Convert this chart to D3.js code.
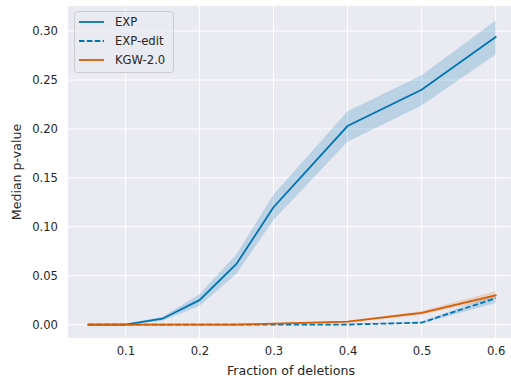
<!DOCTYPE html>
<html><head><meta charset="utf-8">
<script src="https://cdn.jsdelivr.net/npm/d3@7"></script>
<style>body{margin:0;background:#fff;} svg{display:block;font-family:"DejaVu Sans",sans-serif;}</style>
</head><body><svg id="c" width="511" height="383"></svg>
<script>
const fractions = [0.05, 0.1, 0.15, 0.2, 0.25, 0.3, 0.4, 0.5, 0.6];
const expMed   = [0.000, 0.000, 0.006, 0.025, 0.062, 0.120, 0.203, 0.240, 0.294];
const expLo    = [0.000, 0.000, 0.004, 0.019, 0.052, 0.107, 0.187, 0.224, 0.276];
const expHi    = [0.000, 0.001, 0.008, 0.031, 0.072, 0.133, 0.218, 0.255, 0.311];
const editMed  = [0.000, 0.000, 0.000, 0.000, 0.000, 0.000, 0.000, 0.002, 0.027];
const editLo   = [0.000, 0.000, 0.000, 0.000, 0.000, 0.000, 0.000, 0.001, 0.022];
const editHi   = [0.000, 0.000, 0.000, 0.000, 0.000, 0.000, 0.001, 0.003, 0.031];
const kgwMed   = [0.000, 0.000, 0.000, 0.000, 0.000, 0.001, 0.003, 0.012, 0.030];
const kgwLo    = [0.000, 0.000, 0.000, 0.000, 0.000, 0.000, 0.002, 0.010, 0.027];
const kgwHi    = [0.000, 0.000, 0.000, 0.000, 0.001, 0.001, 0.004, 0.014, 0.034];
const xTicks = [0.1, 0.2, 0.3, 0.4, 0.5, 0.6];
const yTicks = [0.00, 0.05, 0.10, 0.15, 0.20, 0.25, 0.30];
const seriesNames = ["EXP", "EXP-edit", "KGW-2.0"];

const svg = d3.select("#c");
const L = 68, T = 6, R = 516, B = 338;
const x = d3.scaleLinear().domain([0.0225, 0.6275]).range([L, R]);
const y = d3.scaleLinear().domain([-0.0137, 0.3257]).range([B, T]);
const tickFs = 11.6, labelFs = 12.6;

svg.append("rect").attr("x", L).attr("y", T).attr("width", R - L).attr("height", B - T).attr("fill", "#eaeaf2");
const g = svg.append("g");
g.selectAll(".gx").data(xTicks).join("line").attr("x1", d => x(d)).attr("x2", d => x(d)).attr("y1", T).attr("y2", B).attr("stroke", "#fff").attr("stroke-width", 1);
g.selectAll(".gy").data(yTicks).join("line").attr("y1", d => y(d)).attr("y2", d => y(d)).attr("x1", L).attr("x2", R).attr("stroke", "#fff").attr("stroke-width", 1);

const xAxis = d3.axisBottom(x).tickValues(xTicks).tickFormat(d3.format(".1f")).tickSize(0).tickPadding(9);
const ax = svg.append("g").attr("transform", `translate(0,${B})`).call(xAxis);
ax.select(".domain").remove();
ax.selectAll("text").attr("font-size", tickFs).attr("fill", "#262626").attr("font-family", "DejaVu Sans");
const yAxis = d3.axisLeft(y).tickValues(yTicks).tickFormat(d3.format(".2f")).tickSize(0).tickPadding(10);
const ay = svg.append("g").attr("transform", `translate(${L},0)`).call(yAxis);
ay.select(".domain").remove();
ay.selectAll("text").attr("font-size", tickFs).attr("fill", "#262626").attr("font-family", "DejaVu Sans");

svg.append("text").attr("x", 291).attr("y", 375).attr("text-anchor", "middle").attr("font-size", labelFs).attr("fill", "#262626").text("Fraction of deletions");
svg.append("text").attr("transform", "translate(21,172) rotate(-90)").attr("text-anchor", "middle").attr("font-size", labelFs).attr("fill", "#262626").text("Median p-value");

const blue = "#0173b2", orange = "#d55e00";
const series = [
  {med: expMed, lo: expLo, hi: expHi, color: blue, dash: null},
  {med: editMed, lo: editLo, hi: editHi, color: blue, dash: "5.5,2.4"},
  {med: kgwMed, lo: kgwLo, hi: kgwHi, color: orange, dash: null}
];
const area = d3.area().x((d, i) => x(fractions[i])).y0(d => y(d[0])).y1(d => y(d[1]));
const line = d3.line().x((d, i) => x(fractions[i])).y(d => y(d));
series.forEach(s => {
  const band = s.lo.map((v, i) => [v, s.hi[i]]);
  svg.append("path").attr("d", area(band)).attr("fill", s.color).attr("fill-opacity", 0.2).attr("stroke", "none");
});
series.forEach(s => {
  svg.append("path").attr("d", line(s.med)).attr("fill", "none").attr("stroke", s.color).attr("stroke-width", 1.8)
    .attr("stroke-dasharray", s.dash).attr("stroke-linecap", s.dash ? "butt" : "square");
});

// legend
const lg = svg.append("g");
lg.append("rect").attr("x", 74.5).attr("y", 11.5).attr("width", 99).attr("height", 61).attr("rx", 3)
  .attr("fill", "#eaeaf2").attr("fill-opacity", 0.8).attr("stroke", "#cccccc").attr("stroke-width", 1);
seriesNames.forEach((n, i) => {
  const yy = 22 + i * 19;
  lg.append("line").attr("x1", 79).attr("x2", 104).attr("y1", yy).attr("y2", yy)
    .attr("stroke", series[i].color).attr("stroke-width", 1.8).attr("stroke-dasharray", series[i].dash);
  lg.append("text").attr("x", 115).attr("y", yy + 4).attr("font-size", tickFs).attr("fill", "#262626").text(n);
});
</script></body></html>
